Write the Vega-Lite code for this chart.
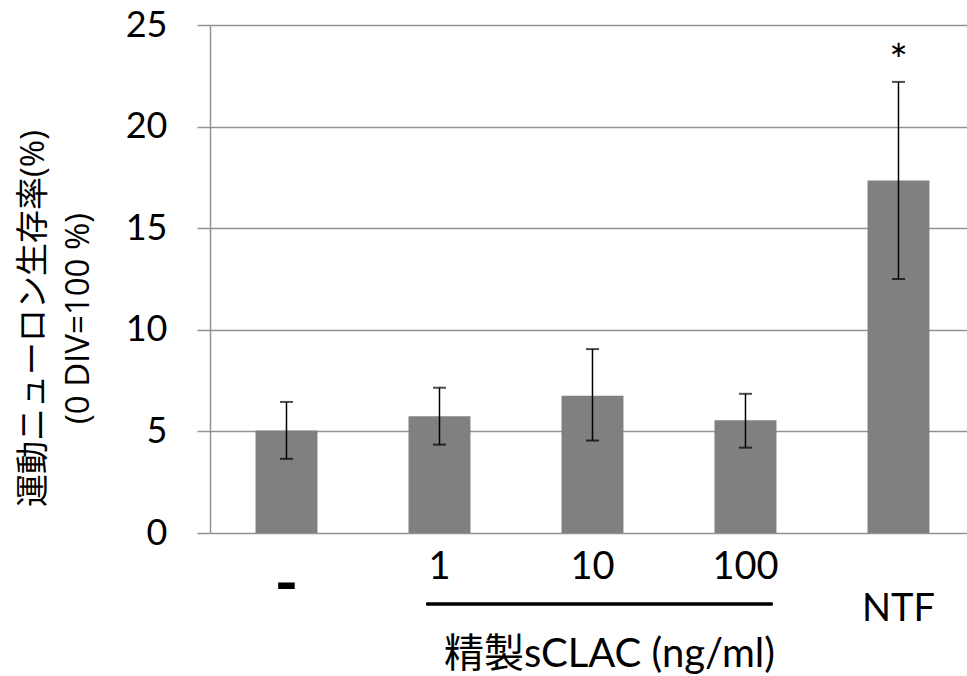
{
  "$schema": "https://vega.github.io/schema/vega-lite/v6.json",
  "width": 757,
  "height": 508,
  "autosize": {"type": "none"},
  "padding": {"left": 210, "top": 25, "right": 0, "bottom": 143},
  "background": "white",
  "config": {
    "view": {"stroke": null},
    "font": "Lato, 'Noto Sans CJK JP', sans-serif"
  },
  "data": {
    "values": [
      {"group": "-", "mean": 5.05, "lower": 3.65, "upper": 6.45, "sig": ""},
      {"group": "1", "mean": 5.75, "lower": 4.35, "upper": 7.15, "sig": ""},
      {"group": "10", "mean": 6.75, "lower": 4.55, "upper": 9.05, "sig": ""},
      {"group": "100", "mean": 5.55, "lower": 4.2, "upper": 6.85, "sig": ""},
      {"group": "NTF", "mean": 17.35, "lower": 12.5, "upper": 22.2, "sig": "*"}
    ]
  },
  "layer": [
    {
      "mark": {"type": "bar", "color": "#808080"},
      "encoding": {
        "x": {
          "field": "group",
          "type": "nominal",
          "sort": null,
          "scale": {"paddingInner": 0.595, "paddingOuter": 0.2714, "align": 0.548, "round": false},
          "axis": {
            "title": "精製sCLAC (ng/ml)",
            "titleFontSize": 40,
            "titleFontWeight": "normal",
            "titleColor": "black",
            "titleX": 399,
            "titleY": 133,
            "titleAlign": "center",
            "titleBaseline": "alphabetic",
            "titleAnchor": null,
            "labelAngle": 0,
            "labelFontSize": {"condition": {"test": "datum.value == '-'", "value": 64}, "value": 38},
            "labelFontWeight": {"condition": {"test": "datum.value == '-'", "value": "bold"}, "value": "normal"},
            "labelColor": "black",
            "labelBaseline": "alphabetic",
            "labelPadding": {"condition": [{"test": "datum.value == '-'", "value": 71}, {"test": "datum.value == 'NTF'", "value": 87}], "value": 45},
            "ticks": false,
            "tickSize": 0,
            "domain": false
          }
        },
        "y": {
          "field": "mean",
          "type": "quantitative",
          "title": ["運動ニューロン生存率(%)", "(0 DIV=100 %)"],
          "scale": {"domain": [0, 25], "nice": false},
          "axis": {
            "values": [0, 5, 10, 15, 20, 25],
            "titleFont": "'Open Sans', 'Noto Sans CJK JP', sans-serif",
            "titleFontSize": 33,
            "titleFontWeight": "normal",
            "titleColor": "black",
            "titleLineHeight": 45,
            "titlePadding": 30,
            "titleY": 293,
            "labelFontSize": 36,
            "labelColor": "black",
            "labelPadding": 30,
            "tickSize": 13,
            "tickColor": "#929292",
            "tickWidth": 1.5,
            "domainColor": "#929292",
            "domainWidth": 1.5,
            "gridColor": "#929292",
            "gridWidth": 1.5
          }
        }
      }
    },
    {
      "mark": {
        "type": "errorbar",
        "color": "black",
        "ticks": {"size": 13, "thickness": 2, "color": "black"},
        "rule": {"strokeWidth": 1.5, "color": "black"}
      },
      "encoding": {
        "x": {"field": "group", "type": "nominal", "sort": null},
        "y": {"field": "lower", "type": "quantitative", "title": ["運動ニューロン生存率(%)", "(0 DIV=100 %)"]},
        "y2": {"field": "upper", "title": ["運動ニューロン生存率(%)", "(0 DIV=100 %)"]}
      }
    },
    {
      "mark": {"type": "text", "fontSize": 44, "color": "black", "baseline": "alphabetic", "dy": -6},
      "encoding": {
        "x": {"field": "group", "type": "nominal", "sort": null},
        "y": {"field": "upper", "type": "quantitative", "title": ["運動ニューロン生存率(%)", "(0 DIV=100 %)"]},
        "text": {"field": "sig"}
      }
    },
    {
      "mark": {"type": "rule", "color": "black", "strokeWidth": 2.5},
      "encoding": {
        "x": {"datum": "1", "bandPosition": 0.29},
        "x2": {"datum": "100", "bandPosition": 0.935},
        "y": {"datum": -3.5}
      }
    }
  ]
}
